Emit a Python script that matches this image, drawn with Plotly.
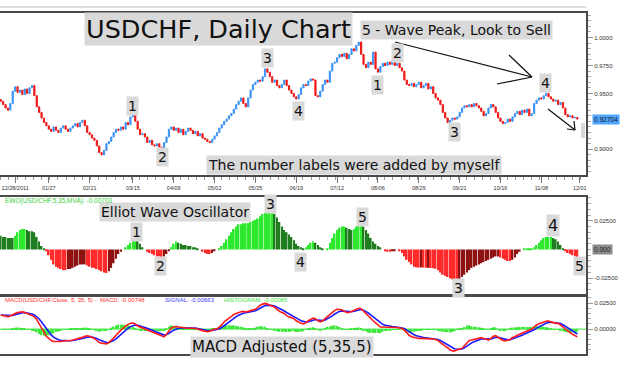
import plotly.graph_objects as go
import pandas as pd

# ---------------- data ----------------
closes = [
    0.943, 0.940, 0.937, 0.935, 0.941, 0.952, 0.956, 0.951, 0.953, 0.949,
    0.954, 0.950, 0.955, 0.957, 0.948, 0.938, 0.933, 0.928, 0.924, 0.921,
    0.918, 0.916, 0.920, 0.917, 0.915, 0.919, 0.921, 0.918, 0.916, 0.919,
    0.921, 0.923, 0.920, 0.924, 0.926, 0.921, 0.915, 0.913, 0.910, 0.908,
    0.903, 0.897, 0.895, 0.899, 0.905, 0.907, 0.911, 0.915, 0.918, 0.917,
    0.920, 0.918, 0.924, 0.922, 0.929, 0.932, 0.925, 0.918, 0.913, 0.914,
    0.911, 0.906, 0.908, 0.904, 0.903, 0.905, 0.902, 0.901, 0.906, 0.911,
    0.918, 0.920, 0.917, 0.919, 0.915, 0.918, 0.913, 0.916, 0.919, 0.917,
    0.914, 0.916, 0.912, 0.914, 0.910, 0.909, 0.907, 0.906, 0.909, 0.912,
    0.915, 0.919, 0.922, 0.925, 0.927, 0.930, 0.932, 0.936, 0.940, 0.943,
    0.946, 0.941, 0.938, 0.946, 0.953, 0.958, 0.960, 0.962, 0.961, 0.965,
    0.972, 0.969, 0.965, 0.960, 0.962, 0.957, 0.955, 0.958, 0.962, 0.957,
    0.953, 0.950, 0.947, 0.945, 0.949, 0.955, 0.958, 0.957, 0.961, 0.963,
    0.962, 0.948, 0.947, 0.952, 0.958, 0.962, 0.960, 0.970, 0.977, 0.978,
    0.982, 0.985, 0.983, 0.986, 0.981, 0.985, 0.990, 0.988, 0.993, 0.996,
    0.985, 0.976, 0.973, 0.978, 0.976, 0.987, 0.972, 0.969, 0.974, 0.977,
    0.975, 0.978, 0.976, 0.979, 0.975, 0.977, 0.973, 0.970, 0.962, 0.958,
    0.957, 0.959, 0.956, 0.958, 0.960, 0.955, 0.957, 0.959, 0.954, 0.956,
    0.950, 0.946, 0.944, 0.940, 0.933, 0.928, 0.924, 0.926, 0.928, 0.927,
    0.929, 0.933, 0.937, 0.939, 0.938, 0.940, 0.938, 0.941, 0.939, 0.937,
    0.934, 0.930, 0.932, 0.937, 0.940, 0.938, 0.933, 0.928, 0.925, 0.923,
    0.924, 0.927, 0.925, 0.929, 0.932, 0.934, 0.931, 0.935, 0.933, 0.936,
    0.930, 0.932, 0.941, 0.944, 0.946, 0.945, 0.948, 0.950, 0.947, 0.945,
    0.943, 0.944, 0.940, 0.942, 0.937, 0.931, 0.929, 0.930, 0.928, 0.9285, 0.92704,
]
first_open = 0.9445

ewo = [
    0.012, 0.011, 0.011, 0.010, 0.010, 0.010, 0.012, 0.015, 0.017, 0.018,
    0.018, 0.017, 0.016, 0.016, 0.015, 0.011, 0.007, 0.003, 0.001, -0.001,
    -0.005, -0.009, -0.013, -0.015, -0.016, -0.017, -0.018, -0.018, -0.017, -0.017,
    -0.016, -0.015, -0.014, -0.013, -0.013, -0.013, -0.014, -0.015, -0.016, -0.016,
    -0.017, -0.018, -0.019, -0.020, -0.0205, -0.019, -0.016, -0.012, -0.008, -0.004,
    -0.002, 0.000, 0.002, 0.004, 0.006, 0.008, 0.009, 0.008, 0.005, 0.002,
    0.000, -0.002, -0.003, -0.004, -0.005, -0.006, -0.006, -0.0065, -0.006, -0.004,
    -0.001, 0.002, 0.005, 0.007, 0.006, 0.005, 0.004, 0.004, 0.003, 0.003,
    0.002, 0.002, 0.001, 0.000, -0.002, -0.003, -0.004, -0.004, -0.003, -0.001,
    0.000, 0.001, 0.003, 0.006, 0.009, 0.012, 0.015, 0.018, 0.020, 0.022,
    0.022, 0.023, 0.023, 0.023, 0.024, 0.025, 0.026, 0.027, 0.029, 0.031,
    0.032, 0.033, 0.034, 0.034, 0.031, 0.028, 0.024, 0.020, 0.017, 0.015,
    0.013, 0.011, 0.008, 0.005, 0.003, 0.002, 0.001, 0.002, 0.004, 0.006,
    0.007, 0.006, 0.004, 0.002, 0.001, 0.000, 0.001, 0.006, 0.010, 0.014,
    0.017, 0.019, 0.020, 0.020, 0.019, 0.018, 0.017, 0.018, 0.020, 0.021,
    0.021, 0.020, 0.017, 0.014, 0.010, 0.007, 0.005, 0.003, 0.002, 0.000,
    -0.001, -0.002, -0.002, -0.001, -0.001, 0.000, -0.001, -0.003, -0.006, -0.009,
    -0.011, -0.013, -0.015, -0.0155, -0.0158, -0.0156, -0.0158, -0.016, -0.0159, -0.0161,
    -0.0163, -0.0168, -0.018, -0.020, -0.022, -0.023, -0.024, -0.025, -0.026, -0.0265,
    -0.0266, -0.026, -0.024, -0.022, -0.020, -0.018, -0.016, -0.015, -0.014, -0.013,
    -0.012, -0.011, -0.010, -0.009, -0.008, -0.007, -0.006, -0.006, -0.007, -0.008,
    -0.009, -0.010, -0.010, -0.009, -0.007, -0.004, -0.002, 0.000, 0.001, 0.001,
    0.001, 0.001, 0.002, 0.004, 0.006, 0.008, 0.010, 0.011, 0.011, 0.011,
    0.010, 0.009, 0.007, 0.004, 0.001, -0.001, -0.003, -0.004, -0.005, -0.006, -0.007,
]

macd = [
    0.0135, 0.013, 0.0125, 0.012, 0.0125, 0.014, 0.015, 0.016, 0.0165, 0.0167,
    0.016, 0.015, 0.0145, 0.013, 0.012, 0.009, 0.005, 0.001, -0.003, -0.007,
    -0.009, -0.011, -0.012, -0.012, -0.0125, -0.012, -0.0115, -0.0115, -0.0115, -0.011,
    -0.0105, -0.010, -0.009, -0.0087, -0.008, -0.007, -0.0064, -0.007, -0.008, -0.009,
    -0.011, -0.013, -0.0135, -0.014, -0.0144, -0.013, -0.011, -0.0087, -0.006, -0.003,
    -0.001, 0.001, 0.003, 0.0045, 0.0055, 0.0058, 0.005, 0.003, 0.002, 0.001,
    0.000, -0.001, -0.002, -0.003, -0.004, -0.005, -0.006, -0.007, -0.0074, -0.005,
    -0.002, 0.001, 0.002, 0.0025, 0.002, 0.002, 0.0015, 0.001, 0.001, 0.001,
    0.001, 0.0005, 0.000, -0.001, -0.0015, -0.002, -0.0026, -0.002, -0.001, 0.000,
    0.000, 0.002, 0.004, 0.007, 0.009, 0.0106, 0.012, 0.014, 0.015, 0.016,
    0.0167, 0.017, 0.0165, 0.017, 0.0175, 0.018, 0.019, 0.021, 0.023, 0.024,
    0.0247, 0.024, 0.023, 0.022, 0.021, 0.019, 0.017, 0.016, 0.015, 0.013,
    0.0115, 0.011, 0.010, 0.008, 0.0065, 0.0055, 0.005, 0.006, 0.008, 0.009,
    0.0105, 0.010, 0.008, 0.007, 0.008, 0.010, 0.012, 0.0135, 0.016, 0.018,
    0.019, 0.019, 0.0185, 0.017, 0.016, 0.016, 0.017, 0.018, 0.019, 0.020,
    0.0195, 0.017, 0.015, 0.012, 0.010, 0.008, 0.006, 0.004, 0.002, 0.002,
    0.002, 0.002, 0.0015, 0.002, 0.002, 0.0015, 0.001, 0.0007, -0.001, -0.004,
    -0.006, -0.0074, -0.008, -0.0085, -0.009, -0.009, -0.009, -0.009, -0.0093, -0.0095,
    -0.0095, -0.010, -0.011, -0.013, -0.015, -0.0165, -0.018, -0.020, -0.021, -0.021,
    -0.020, -0.019, -0.0186, -0.016, -0.013, -0.011, -0.0106, -0.010, -0.009, -0.0085,
    -0.0083, -0.009, -0.010, -0.0106, -0.009, -0.007, -0.0064, -0.008, -0.010, -0.011,
    -0.0115, -0.011, -0.010, -0.008, -0.0074, -0.006, -0.005, -0.004, -0.0026, -0.002,
    -0.001, 0.000, 0.002, 0.004, 0.005, 0.006, 0.007, 0.0075, 0.0077, 0.007,
    0.006, 0.0055, 0.0055, 0.004, 0.002, 0.000, -0.002, -0.0035, -0.005, -0.0065, -0.00748,
]

tick_labels = ["12/28/2011", "01/27", "02/21", "03/15", "04/09", "05/02", "05/25",
               "06/19", "07/12", "08/06", "08/29", "09/21", "10/16", "11/08", "12/01"]
tick_bars = [6, 20, 37, 55, 72, 89, 106, 123, 140, 157, 174, 191, 208, 225, 241]

price_ticks = [0.9, 0.95, 0.975, 1.0]
price_tick_text = ["0.9000", "0.9500", "0.9750", "1.0000"]
last_price_text = "0.92704"
ewo_ticks = [-0.025, 0.025]
ewo_tick_text = ["-0.02500", "0.02500"]
macd_ticks = [0.0, 0.025]
macd_tick_text = ["0.00000", "0.02500"]

# ---------------- derived series ----------------
bars = list(range(len(closes)))
opens = [first_open] + closes[:-1]
highs = [max(o, c) for o, c in zip(opens, closes)]
lows = [min(o, c) for o, c in zip(opens, closes)]
signal = pd.Series(macd).ewm(span=5, adjust=False).mean().tolist()
hist = [m - s for m, s in zip(macd, signal)]

BRIGHT_G, DARK_G = "#2ee82e", "#1f7d1f"
BRIGHT_R, DARK_R = "#ff2b2b", "#8e1212"
ewo_colors = []
rising = False
for i, v in enumerate(ewo):
    prev = ewo[i - 1] if i else v
    if v > prev:
        rising = True
    elif v < prev:
        rising = False
    if v >= 0:
        ewo_colors.append(BRIGHT_G if rising else DARK_G)
    else:
        ewo_colors.append(DARK_R if rising else BRIGHT_R)

BLUE = "#3d94f5"
RED = "#f01818"

# ---------------- figure ----------------
fig = go.Figure()
fig.add_trace(go.Candlestick(
    x=bars, open=opens, high=highs, low=lows, close=closes,
    xaxis="x", yaxis="y", whiskerwidth=0,
    increasing=dict(line=dict(color=BLUE, width=1), fillcolor=BLUE),
    decreasing=dict(line=dict(color=RED, width=1), fillcolor=RED),
    showlegend=False, hoverinfo="skip"))
fig.add_trace(go.Bar(x=bars, y=ewo, xaxis="x2", yaxis="y2",
                     marker=dict(color=ewo_colors, line=dict(width=0)),
                     showlegend=False, hoverinfo="skip"))
fig.add_trace(go.Bar(x=bars, y=hist, xaxis="x3", yaxis="y3",
                     marker=dict(color="#3fe83f", line=dict(width=0)),
                     showlegend=False, hoverinfo="skip"))
fig.add_trace(go.Scatter(x=bars, y=signal, xaxis="x3", yaxis="y3", mode="lines",
                         line=dict(color="#1a1aff", width=1.6),
                         showlegend=False, hoverinfo="skip"))
fig.add_trace(go.Scatter(x=bars, y=macd, xaxis="x3", yaxis="y3", mode="lines",
                         line=dict(color="#ff1a1a", width=1.6),
                         showlegend=False, hoverinfo="skip"))

W, H = 624, 368
L, R, T, B = 0, 38, 13, 14
PW, PH = W - L - R, H - T - B


def px_x(px):
    return (px - L) / PW


def px_y(py):
    return (H - B - py) / PH


XMIN = -0.3
XMAX = XMIN + PW / 2.4027
x_common = dict(range=[XMIN, XMAX], showgrid=False, zeroline=False,
                showline=True, mirror=True, linecolor="#4a4a4a", linewidth=2)
tick_font = dict(family="Liberation Sans, Arial, sans-serif", size=6, color="#333")

y_common = dict(side="right", showgrid=False, zeroline=False, showline=True,
                linecolor="#4a4a4a", linewidth=2, ticks="outside", ticklen=5,
                tickcolor="#999", tickfont=tick_font)

fig.update_layout(
    width=W, height=H, autosize=False,
    margin=dict(l=L, r=R, t=T, b=B),
    paper_bgcolor="white", plot_bgcolor="white",
    bargap=0.3,
    xaxis=dict(x_common, anchor="y", domain=[0, 1], rangeslider=dict(visible=False),
               tickmode="array", tickvals=tick_bars, ticktext=tick_labels,
               ticks="outside", ticklen=6, tickcolor="#777",
               tickfont=dict(family="Liberation Sans, Arial, sans-serif", size=5.5, color="#333"),
               minor=dict(tickmode="linear", tick0=0, dtick=3.4, ticks="outside",
                          ticklen=3, tickcolor="#999")),
    xaxis2=dict(x_common, anchor="y2", matches="x", showticklabels=False, ticks=""),
    xaxis3=dict(x_common, anchor="y3", matches="x", showticklabels=False, ticks=""),
    yaxis=dict(y_common, anchor="x", domain=[0.525, 1.0], range=[0.877, 1.022],
               tickmode="array", tickvals=price_ticks, ticktext=price_tick_text,
               minor=dict(tickmode="linear", tick0=0, dtick=0.005, ticks="outside",
                          ticklen=3, tickcolor="#aaa")),
    yaxis2=dict(y_common, anchor="x2", domain=[0.176, 0.460], range=[-0.0388, 0.0457],
                tickmode="array", tickvals=ewo_ticks, ticktext=ewo_tick_text,
                minor=dict(tickmode="linear", tick0=0, dtick=0.005, ticks="outside",
                           ticklen=3, tickcolor="#aaa")),
    yaxis3=dict(y_common, anchor="x3", domain=[0.0, 0.167], range=[-0.0240, 0.0308],
                tickmode="array", tickvals=macd_ticks, ticktext=macd_tick_text,
                minor=dict(tickmode="linear", tick0=0, dtick=0.005, ticks="outside",
                           ticklen=3, tickcolor="#aaa")),
)

BIG = "DejaVu Sans, Verdana, sans-serif"
SMALL = "Liberation Sans, Arial, sans-serif"
BOX = "#d9d9d9"
ann = []


def box_text(text, px, py, size, xanchor="center"):
    ann.append(dict(text=text, x=px_x(px), y=px_y(py), xref="paper", yref="paper",
                    xanchor=xanchor, yanchor="middle", showarrow=False,
                    font=dict(family=BIG, size=size, color="#111"),
                    bgcolor=BOX, borderpad=1))


box_text("USDCHF, Daily Chart", 218, 29, 25.5)
box_text("5 - Wave Peak, Look to Sell", 457, 30, 14)
box_text("The number labels were added by myself", 354, 165, 14)
box_text("Elliot Wave Oscillator", 175, 212, 14)
box_text("MACD Adjusted (5,35,5)", 282, 347, 15)

price_labels = [("1", 132, 106), ("2", 163, 157), ("3", 267, 58), ("4", 298, 111),
                ("1", 377, 85), ("2", 397, 53), ("3", 454, 132), ("4", 545, 83)]
for t, px, py in price_labels:
    box_text(t, px, py, 14)

ewo_labels = [("1", 136, 232, 14), ("2", 160, 266, 14), ("3", 270, 204, 14),
              ("4", 300, 262, 14), ("5", 362, 217, 14), ("3", 458, 288, 14),
              ("4", 553, 225, 16), ("5", 579, 266, 14)]
for t, px, py, s in ewo_labels:
    box_text(t, px, py, s)


def small_text(text, px, py, color, size=6.5):
    ann.append(dict(text=text, x=px_x(px), y=px_y(py), xref="paper", yref="paper",
                    xanchor="left", yanchor="middle", showarrow=False,
                    font=dict(family=SMALL, size=size, color=color)))


small_text("EWO(USD/CHF,5,35,MVA): -0.00703", 3, 201, "#3ccf3c")
small_text("MACD(USD/CHF.Close, 5, 35, 5) -  MACD: -0.00748", 3, 300, "#ff3030", 6)
small_text("SIGNAL: -0.00663", 163, 300, "#3a3aff", 6)
small_text("HISTOGRAM: -0.00085", 222, 300, "#3ce03c", 6)

ann.append(dict(text=last_price_text, x=px_x(592), y=0.92704, xref="paper", yref="y",
                xanchor="left", yanchor="middle", showarrow=False,
                font=dict(family=SMALL, size=6.5, color="#111"),
                bgcolor="#4fa6ff", borderpad=1))
ann.append(dict(text="0.000", x=px_x(592), y=0.0, xref="paper", yref="y2",
                xanchor="left", yanchor="middle", showarrow=False,
                font=dict(family=SMALL, size=6.5, color="#222"),
                bgcolor="#8c8c8c", borderpad=1))

shapes = []


def seg(x0, y0, x1, y1, color="#111", width=1.2):
    shapes.append(dict(type="line", xref="paper", yref="paper",
                       x0=px_x(x0), y0=px_y(y0), x1=px_x(x1), y1=px_y(y1),
                       line=dict(color=color, width=width)))


seg(395, 42, 532, 77)
seg(509, 55, 532, 77)
seg(497, 84, 532, 77)
seg(548, 109, 575, 130)
seg(567, 129, 575, 130)
seg(574, 121, 575, 130)
seg(0, 7, 586, 7, color="#bbbbbb", width=1)
shapes.append(dict(type="rect", xref="paper", yref="paper",
                   x0=px_x(581), x1=px_x(585), y0=px_y(138), y1=px_y(123),
                   fillcolor=BOX, line=dict(width=0)))
shapes.append(dict(type="line", xref="paper", yref="y3", x0=0, x1=1, y0=0, y1=0,
                   line=dict(color="#3fe83f", width=1), layer="below"))

fig.update_layout(annotations=ann, shapes=shapes)
fig.write_html("out.html", config={"displayModeBar": False},
               post_script="document.body.style.margin='0';document.body.style.overflow='hidden';")
